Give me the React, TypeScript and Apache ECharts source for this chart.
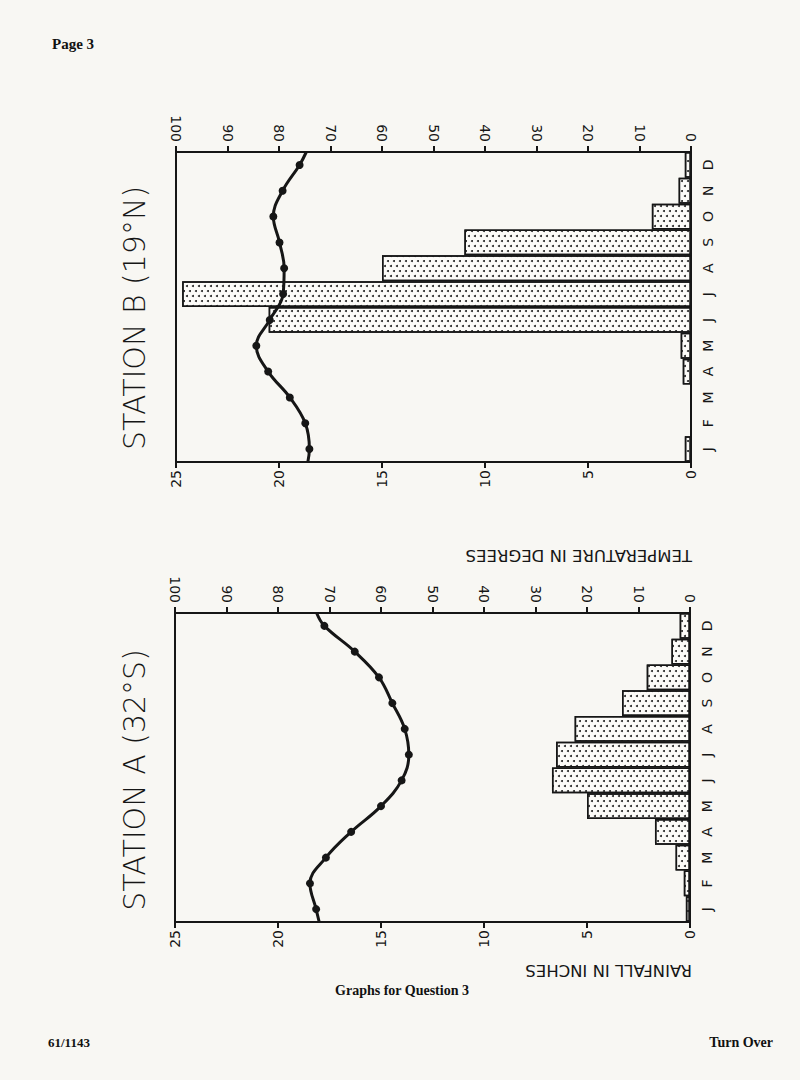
import React, { useEffect, useRef } from "react";
import * as echarts from "echarts";

// ---- data ----
const MONTHS = ["J", "F", "M", "A", "M", "J", "J", "A", "S", "O", "N", "D"];

// Station A (32°S)
const RAIN_A = [0.2, 0.3, 0.7, 1.7, 5.0, 6.7, 6.5, 5.6, 3.3, 2.1, 0.9, 0.5];
const TEMP_A = [72.6, 73.8, 70.7, 65.8, 60.0, 56.0, 54.6, 55.4, 57.8, 60.4, 65.1, 71.0];
// where the temperature curve meets the lower (Jan side) and upper (Dec side) edge
const TEMP_A_EDGES = [72.0, 72.5];

// Station B (19°N)
const RAIN_B = [0.3, 0, 0, 0.4, 0.5, 20.5, 24.7, 15.0, 11.0, 1.9, 0.6, 0.3];
const TEMP_B = [74.1, 74.9, 77.9, 82.1, 84.4, 81.8, 79.2, 79.0, 79.9, 81.1, 79.3, 76.0];
const TEMP_B_EDGES = [74.4, 74.7];

const RAIN_MAX = 25;
const RAIN_STEP = 5;
const TEMP_MAX = 100;
const TEMP_STEP = 10;

const TITLE_A = "STATION A (32°S)";
const TITLE_B = "STATION B (19°N)";
const NAME_TEMP = "TEMPERATURE IN DEGREES";
const NAME_RAIN = "RAINFALL IN INCHES";

// ---- styling ----
const PAPER = "#f8f7f3";
const INK = "#161616";
const FONT = "DejaVu Sans";
const SERIF = "Liberation Serif";

const DOTS: any = {
  symbol: "circle",
  symbolSize: 1,
  color: "#222",
  dashArrayX: [
    [1.6, 3.4],
    [0, 2.5, 1.6, 0.9],
  ],
  dashArrayY: [1.6, 2.6],
  rotation: 0,
};

function valueAxis(gridIndex: number, position: "top" | "bottom", max: number, step: number) {
  return {
    type: "value",
    gridIndex,
    position,
    inverse: true,
    min: 0,
    max,
    interval: step,
    axisLine: { show: true, onZero: false, lineStyle: { color: INK, width: 2 } },
    axisTick: { show: true, inside: false, length: 6, lineStyle: { color: INK, width: 2 } },
    axisLabel: {
      rotate: 90,
      margin: position === "top" ? 10 : 8,
      color: INK,
      fontFamily: FONT,
      fontSize: 14,
      showMinLabel: true,
      showMaxLabel: true,
      hideOverlap: false,
    },
    splitLine: { show: false },
  };
}

function monthAxis(gridIndex: number) {
  return {
    type: "category",
    gridIndex,
    position: "right",
    data: MONTHS,
    boundaryGap: true,
    axisLine: { show: true, onZero: false, lineStyle: { color: INK, width: 2 } },
    axisTick: { show: false },
    axisLabel: {
      rotate: 90,
      margin: 10,
      color: INK,
      fontFamily: FONT,
      fontSize: 14,
      interval: 0,
    },
    splitLine: { show: false },
  };
}

// hidden continuous month axis (0 = start of Jan, 12 = end of Dec) for the curve
function monthPosAxis(gridIndex: number) {
  return {
    type: "value",
    gridIndex,
    min: 0,
    max: MONTHS.length,
    show: false,
  };
}

function barSeries(xAxisIndex: number, yAxisIndex: number, data: number[]) {
  return {
    type: "bar",
    xAxisIndex,
    yAxisIndex,
    data,
    barCategoryGap: "0%",
    itemStyle: {
      color: "#fcfbf8",
      borderColor: INK,
      borderWidth: 1.5,
      decal: DOTS,
    },
    silent: true,
  };
}

function lineSeries(xAxisIndex: number, yAxisIndex: number, temps: number[], edges: number[]) {
  const pts: any[] = [{ value: [edges[0], 0], symbol: "none" }];
  temps.forEach((t, i) => pts.push({ value: [t, i + 0.5] }));
  pts.push({ value: [edges[1], MONTHS.length], symbol: "none" });
  return {
    type: "line",
    xAxisIndex,
    yAxisIndex,
    data: pts,
    smooth: 0.4,
    symbol: "circle",
    symbolSize: 8,
    showAllSymbol: true,
    lineStyle: { color: INK, width: 3 },
    itemStyle: { color: INK, borderWidth: 0, decal: "none" },
    z: 5,
    silent: true,
  };
}

function rotatedText(text: string, x: number, y: number, rotation: number, size: number, align = "center", weight: any = "normal") {
  return {
    type: "text",
    x,
    y,
    rotation,
    silent: true,
    style: {
      text,
      fill: INK,
      fontFamily: FONT,
      fontSize: size,
      fontWeight: weight,
      align,
      verticalAlign: "middle",
    },
  };
}

function plainText(text: string, x: number, y: number, size: number, align = "left") {
  return {
    type: "text",
    x,
    y,
    silent: true,
    style: {
      text,
      fill: "#111",
      fontFamily: SERIF,
      fontSize: size,
      fontWeight: "bold",
      align,
      verticalAlign: "middle",
    },
  };
}

export default function App() {
  const ref = useRef<HTMLDivElement>(null);

  useEffect(() => {
    if (!ref.current) return;
    const chart = echarts.init(ref.current, null, { renderer: "svg" });
    const option: any = {
      animation: false,
      backgroundColor: PAPER,
      aria: { enabled: true, decal: { show: true } },
      grid: [
        { left: 176, top: 152, width: 515, height: 310, show: true, borderColor: INK, borderWidth: 2, backgroundColor: "transparent" },
        { left: 175, top: 613, width: 515, height: 309, show: true, borderColor: INK, borderWidth: 2, backgroundColor: "transparent" },
      ],
      xAxis: [
        valueAxis(0, "bottom", RAIN_MAX, RAIN_STEP),
        valueAxis(0, "top", TEMP_MAX, TEMP_STEP),
        valueAxis(1, "bottom", RAIN_MAX, RAIN_STEP),
        valueAxis(1, "top", TEMP_MAX, TEMP_STEP),
      ],
      yAxis: [monthAxis(0), monthAxis(1), monthPosAxis(0), monthPosAxis(1)],
      series: [
        barSeries(0, 0, RAIN_B),
        lineSeries(1, 2, TEMP_B, TEMP_B_EDGES),
        barSeries(2, 1, RAIN_A),
        lineSeries(3, 3, TEMP_A, TEMP_A_EDGES),
      ],
      graphic: [
        rotatedText(TITLE_B, 134, 318, Math.PI / 2, 30, "center", 200),
        rotatedText(TITLE_A, 134, 780, Math.PI / 2, 30, "center", 200),
        rotatedText(NAME_TEMP, 692, 555, Math.PI, 16.5, "left"),
        rotatedText(NAME_RAIN, 692, 970, Math.PI, 16.5, "left"),
        plainText("Page 3", 52, 44, 15),
        plainText("Graphs for Question 3", 402, 990, 14, "center"),
        plainText("61/1143", 48, 1042, 13),
        plainText("Turn Over", 773, 1042, 14, "right"),
      ],
    };
    chart.setOption(option);
    return () => chart.dispose();
  }, []);

  return (
    <div
      ref={ref}
      style={{ position: "fixed", left: 0, top: 0, width: 800, height: 1080, background: PAPER }}
    />
  );
}
